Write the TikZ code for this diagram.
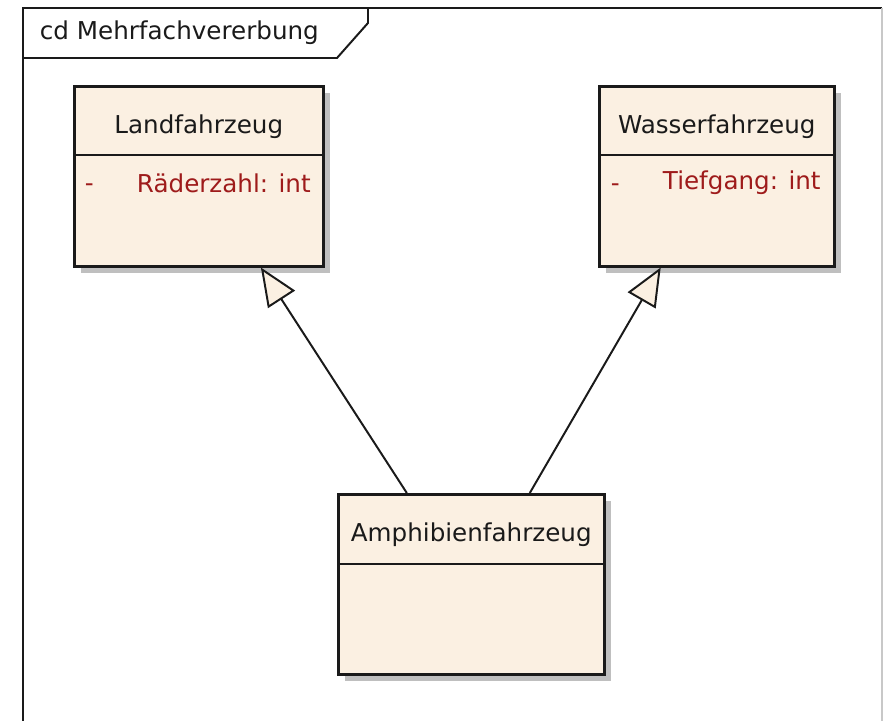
\documentclass[tikz,border=0pt]{standalone}
\usepackage{fontspec}
\setmainfont{DejaVu Sans}
\usepackage{tikz}
\usetikzlibrary{arrows.meta,calc,shadows}
\definecolor{Cream}{HTML}{FBF0E2}
\definecolor{Shade}{HTML}{BFBFBF}
\definecolor{Ink}{HTML}{1A1A1A}
\definecolor{Rust}{HTML}{9E1B1B}
\definecolor{Rim}{HTML}{C8C8C8}

\tikzset{
  classbox/.style={draw=Ink,fill=Cream,line width=1.8pt,inner sep=0pt,anchor=north west,
    drop shadow={shadow xshift=0.175cm,shadow yshift=-0.175cm,fill=Shade,opacity=1}},
  classname/.style={text=Ink,font=\fontsize{17.5}{21}\selectfont},
  attrib/.style={anchor=west,text=Rust,font=\fontsize{17.5}{21}\selectfont},
  inherit/.style={draw=Ink,line width=1.4pt,-{Triangle[length=0.95cm,width=0.8cm,fill=Cream]}}
}

\begin{document}
\begin{tikzpicture}[x=1cm,y=1cm]
        \useasboundingbox (0,0) rectangle (22.075,18.025);
        \fill[white] (0,0) rectangle (22.075,18.025);

        % diagram frame
        \draw[Ink,line width=1.4pt] (0.575,-1) -- (0.575,17.825) -- (22.05,17.825);
        \draw[Rim,line width=1pt] (22.05,17.825) -- (22.05,-1);
        \draw[Ink,line width=1.4pt] (0.575,16.575) -- (8.425,16.575) -- (9.2,17.45) -- (9.2,17.825);
        \node[anchor=west,classname] (frametitle) at (0.875,17.2) {cd Mehrfachvererbung};

        % classes
        \node[classbox,minimum width=6.225cm,minimum height=4.5cm] (land) at (1.825,15.9) {};
        \node[classbox,minimum width=5.875cm,minimum height=4.5cm] (wasser) at (14.95,15.9) {};
        \node[classbox,minimum width=6.65cm,minimum height=4.5cm] (amph) at (8.425,5.7) {};

        \draw[Ink,line width=1.8pt] ($(land.north west)+(0,-1.75)$) -- ($(land.north east)+(0,-1.75)$);
        \draw[Ink,line width=1.8pt] ($(wasser.north west)+(0,-1.75)$) -- ($(wasser.north east)+(0,-1.75)$);
        \draw[Ink,line width=1.8pt] ($(amph.north west)+(0,-1.775)$) -- ($(amph.north east)+(0,-1.775)$);

        \node[classname] (landname) at ($(land.north)+(0,-1.05)$) {Landfahrzeug};
        \node[classname] (wassername) at ($(wasser.north)+(0,-1.05)$) {Wasserfahrzeug};
        \node[classname] (amphname) at ($(amph.north)+(0,-1.05)$) {Amphibienfahrzeug};

        \node[attrib] (landdash) at (2.0,13.33) {-};
        \node[attrib] (landattr) at (3.3,13.45) {Räderzahl: int};
        \node[attrib] (wasserdash) at (15.15,13.33) {-};
        \node[attrib] (wasserattr) at (16.45,13.45) {Tiefgang: int};

        % generalisations
        \draw[inherit] ($(amph.north west)!0.26!(amph.north east)$) -- ($(land.south west)!0.747!(land.south east)$);
        \draw[inherit] ($(amph.north west)!0.718!(amph.north east)$) -- ($(wasser.south west)!0.264!(wasser.south east)$);
      \end{tikzpicture}
\end{document}
